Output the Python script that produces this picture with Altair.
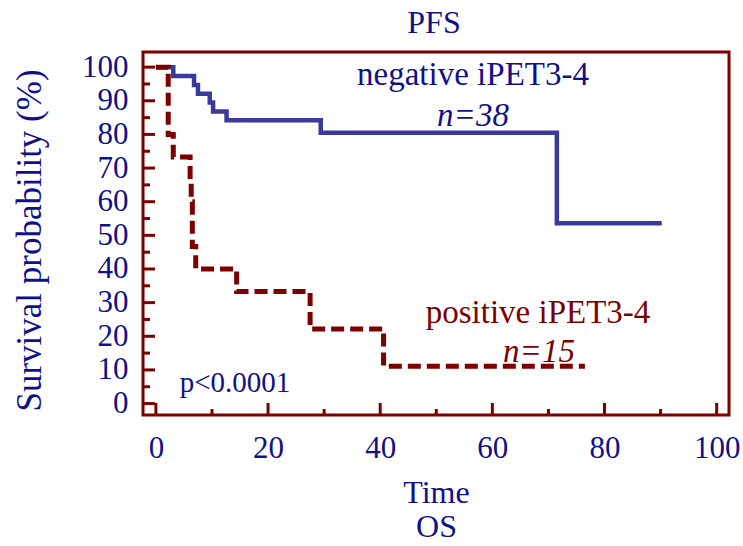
import altair as alt
import pandas as pd

# Kaplan-Meier step curves (time, survival %)
neg_t = [0, 3.1, 6.8, 7.5, 9.6, 10.2, 12.6, 29.4, 71.5, 90.2]
neg_s = [100, 97.4, 94.7, 92.1, 89.5, 86.8, 84.2, 80.5, 53.6, 53.6]

pos_t = [0, 2.2, 3.1, 6.1, 6.3, 6.5, 7.1, 14.4, 27.5, 40.6, 76.5]
pos_s = [100, 80.0, 73.3, 66.7, 60.0, 46.7, 40.0, 33.3, 22.2, 11.1, 11.1]

x_major = [0, 20, 40, 60, 80, 100]
x_minor = [10, 30, 50, 70, 90]
y_major = [0, 10, 20, 30, 40, 50, 60, 70, 80, 90, 100]
y_minor = [5, 15, 25, 35, 45, 55, 65, 75, 85, 95]

NAVY = "#10108a"
BLUE = "#3a3a9c"
MAROON = "#7d0000"
FONT = "Liberation Serif"

W, H = 586, 363

neg_df = pd.DataFrame({"t": neg_t, "s": neg_s})
pos_df = pd.DataFrame({"t": pos_t, "s": pos_s})

xs = alt.Scale(domain=[-2.3, 102.2], nice=False, zero=False)
ys = alt.Scale(domain=[-3.4, 104.5], nice=False, zero=False)

x_axis = alt.Axis(
    values=x_major, domain=False, ticks=False, grid=False,
    labelFontSize=31, labelColor=NAVY, labelFont=FONT, labelPadding=18,
    title=["Time", "OS"], titleFontSize=32, titleColor=NAVY, titleFont=FONT,
    titleFontWeight="normal", titlePadding=14, titleLineHeight=34,
)
y_axis = alt.Axis(
    values=y_major, domain=False, ticks=False, grid=False,
    labelFontSize=31, labelColor=NAVY, labelFont=FONT, labelPadding=15,
    title="Survival probability (%)", titleFontSize=35, titleColor=NAVY,
    titleFont=FONT, titleFontWeight="normal", titlePadding=34, titleY=188,
)

X = alt.X("t:Q", scale=xs, axis=x_axis)
Y = alt.Y("s:Q", scale=ys, axis=y_axis)

neg_line = alt.Chart(neg_df).mark_line(
    interpolate="step-after", color=BLUE, strokeWidth=4.5, clip=True
).encode(x=X, y=Y)

pos_line = alt.Chart(pos_df).mark_line(
    interpolate="step-after", color=MAROON, strokeWidth=5,
    strokeDash=[13, 6], clip=True
).encode(x=X, y=Y)

# inward ticks along the left and bottom edges of the frame
y_maj = alt.Chart(pd.DataFrame({"s": y_major})).mark_rule(
    color=MAROON, strokeWidth=3
).encode(y=Y, x=alt.value(0), x2=alt.value(12))
y_min = alt.Chart(pd.DataFrame({"s": y_minor})).mark_rule(
    color=MAROON, strokeWidth=3
).encode(y=Y, x=alt.value(0), x2=alt.value(7))
x_maj = alt.Chart(pd.DataFrame({"t": x_major})).mark_rule(
    color=MAROON, strokeWidth=3
).encode(x=X, y=alt.value(H), y2=alt.value(H - 12))
x_min = alt.Chart(pd.DataFrame({"t": x_minor})).mark_rule(
    color=MAROON, strokeWidth=3
).encode(x=X, y=alt.value(H), y2=alt.value(H - 6))


def label(text, x, y, color, italic=False, size=33):
    return alt.Chart(pd.DataFrame({"label": [text]})).mark_text(
        font=FONT, fontSize=size, color=color, align="center",
        baseline="alphabetic", fontStyle="italic" if italic else "normal",
    ).encode(text="label:N", x=alt.value(x), y=alt.value(y))


texts = [
    label("PFS", 291, -19, NAVY, size=32),
    label("negative iPET3-4", 330, 33, NAVY),
    label("n=38", 330, 74, NAVY, italic=True),
    label("positive iPET3-4", 395, 271, MAROON),
    label("n=15", 396, 310, MAROON, italic=True),
    label("p<0.0001", 92, 340, NAVY, size=29),
]

chart = alt.layer(
    y_maj, y_min, x_maj, x_min, neg_line, pos_line, *texts
).properties(
    width=W,
    height=H,
    background="white",
    autosize=alt.AutoSizeParams(type="none"),
    padding={"left": 143, "top": 52, "right": 14, "bottom": 131},
).configure_view(
    stroke=MAROON, strokeWidth=3
)

chart.save("out.html", embed_options={"renderer": "svg", "actions": False})
